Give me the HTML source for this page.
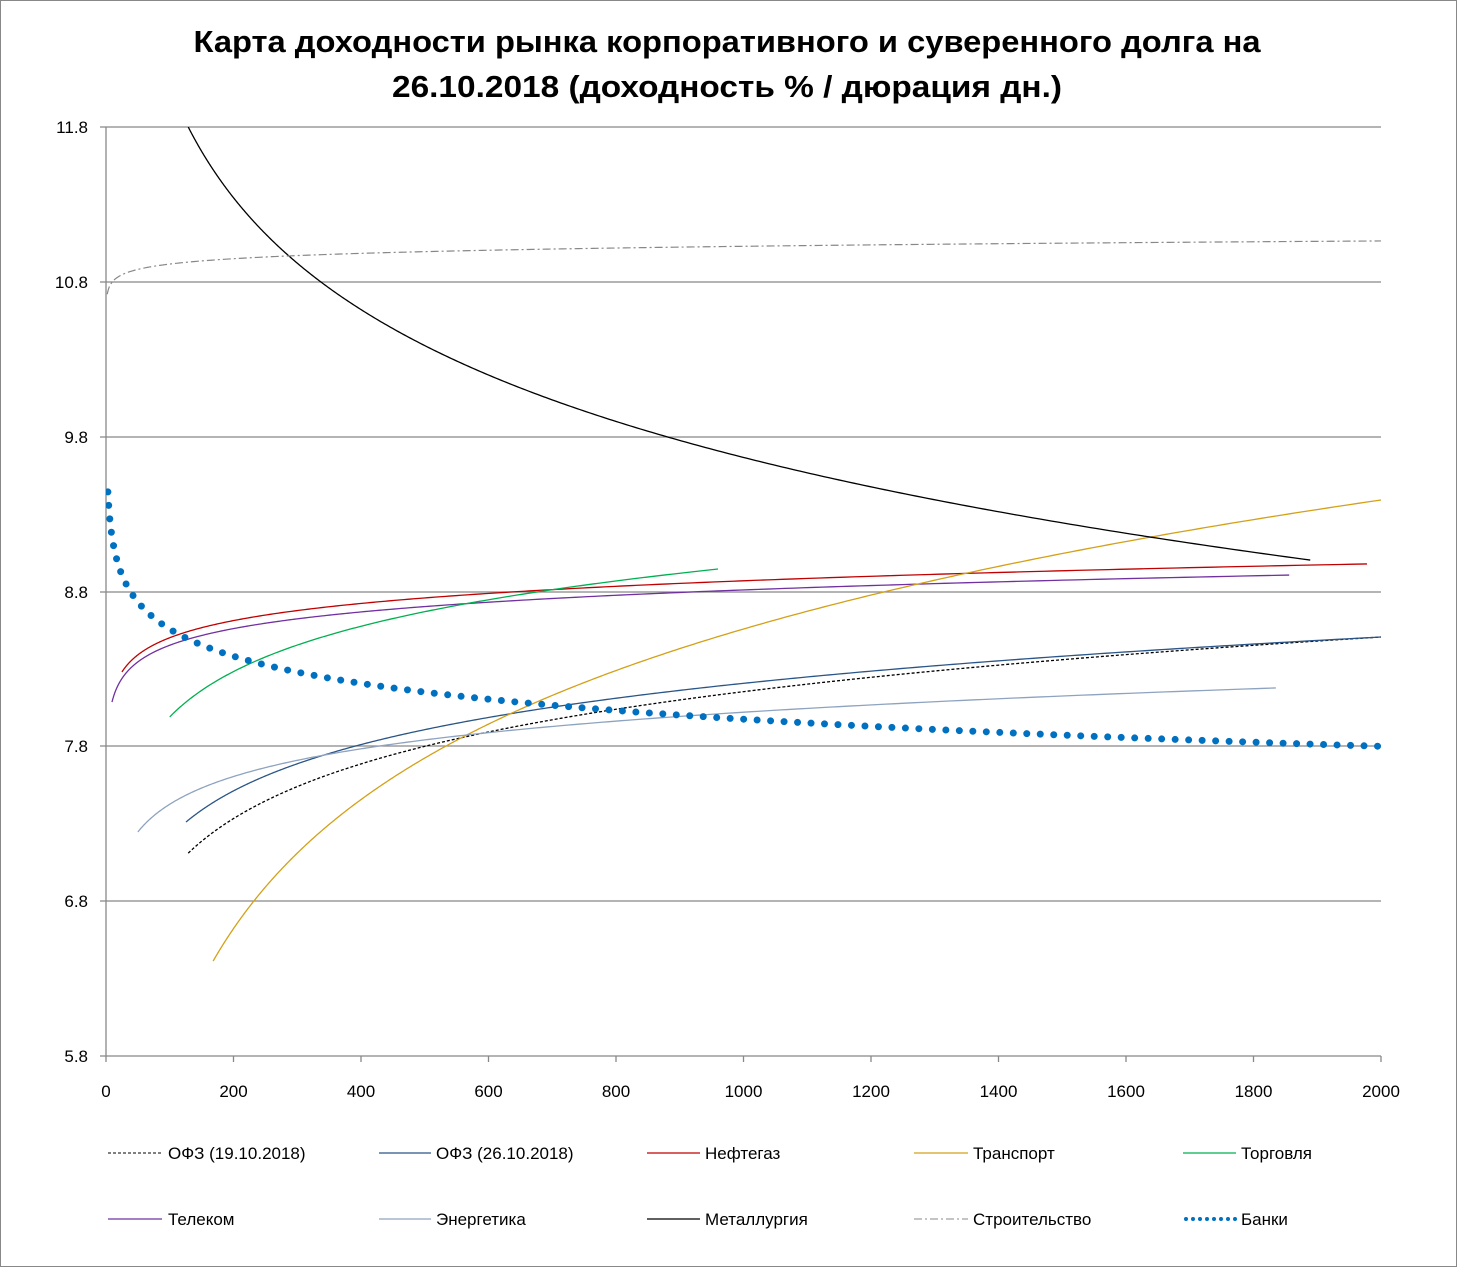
<!DOCTYPE html>
<html><head><meta charset="utf-8"><style>
body{margin:0;background:#fff}
svg{display:block;font-family:"Liberation Sans",sans-serif}
</style></head><body>
<svg id="s" width="1457" height="1267" xmlns="http://www.w3.org/2000/svg">
<rect x="0.5" y="0.5" width="1456" height="1266" fill="#fff" stroke="#888"/>
<text x="727" y="52" font-size="31" font-weight="bold" text-anchor="middle" textLength="1067" lengthAdjust="spacingAndGlyphs">Карта доходности рынка корпоративного и суверенного долга на</text>
<text x="727" y="97" font-size="31" font-weight="bold" text-anchor="middle" textLength="670" lengthAdjust="spacingAndGlyphs">26.10.2018 (доходность % / дюрация дн.)</text>
<g stroke="#888" stroke-width="1.3">
<line x1="100" y1="127" x2="1381" y2="127"/><line x1="100" y1="282" x2="1381" y2="282"/>
<line x1="100" y1="437" x2="1381" y2="437"/><line x1="100" y1="592" x2="1381" y2="592"/>
<line x1="100" y1="746" x2="1381" y2="746"/><line x1="100" y1="901" x2="1381" y2="901"/>
<line x1="100" y1="1056" x2="1381" y2="1056"/><line x1="106" y1="127" x2="106" y2="1056"/>
</g>
<g id="ticks" stroke="#888" stroke-width="1.3"></g>
<g font-size="17" fill="#000" text-anchor="end">
<text x="88" y="133">11.8</text><text x="88" y="288">10.8</text><text x="88" y="443">9.8</text>
<text x="88" y="598">8.8</text><text x="88" y="752">7.8</text><text x="88" y="907">6.8</text><text x="88" y="1062">5.8</text>
</g>
<g id="xl" font-size="17" text-anchor="middle"></g>
<clipPath id="c"><rect x="106" y="127" width="1280" height="930"/></clipPath>
<g id="series" clip-path="url(#c)" fill="none"></g>
<g font-size="17">
<line x1="108" y1="1153" x2="162" y2="1153" stroke="#000" stroke-dasharray="3 2"/><text x="168" y="1159">ОФЗ (19.10.2018)</text>
<line x1="379" y1="1153" x2="431" y2="1153" stroke="#2a5586" stroke-width="1.3"/><text x="436" y="1159">ОФЗ (26.10.2018)</text>
<line x1="647" y1="1153" x2="700" y2="1153" stroke="#c00000" stroke-width="1.3"/><text x="705" y="1159">Нефтегаз</text>
<line x1="914" y1="1153" x2="968" y2="1153" stroke="#d4a017" stroke-width="1.3"/><text x="973" y="1159">Транспорт</text>
<line x1="1183" y1="1153" x2="1236" y2="1153" stroke="#00b050" stroke-width="1.3"/><text x="1241" y="1159">Торговля</text>
<line x1="108" y1="1219" x2="162" y2="1219" stroke="#7030a0" stroke-width="1.3"/><text x="168" y="1225">Телеком</text>
<line x1="379" y1="1219" x2="431" y2="1219" stroke="#8ea3c0" stroke-width="1.3"/><text x="436" y="1225">Энергетика</text>
<line x1="647" y1="1219" x2="700" y2="1219" stroke="#000" stroke-width="1.3"/><text x="705" y="1225">Металлургия</text>
<line x1="914" y1="1219" x2="968" y2="1219" stroke="#888" stroke-dasharray="8 3 2 3"/><text x="973" y="1225">Строительство</text>
<line x1="1186" y1="1219" x2="1236" y2="1219" stroke="#0070c0" stroke-width="4" stroke-linecap="round" stroke-dasharray="0 7"/><text x="1241" y="1225">Банки</text>
</g>
</svg>
<script>
var NS="http://www.w3.org/2000/svg";
function X(d){return 106+d*0.6375}
function Y(v){return 127+(11.8-v)*154.83}
var t=document.getElementById("ticks"),xl=document.getElementById("xl");
for(var d=0;d<=2000;d+=200){var l=document.createElementNS(NS,"line");l.setAttribute("x1",X(d));l.setAttribute("x2",X(d));l.setAttribute("y1",1056);l.setAttribute("y2",1062);t.appendChild(l);
var tx=document.createElementNS(NS,"text");tx.setAttribute("x",X(d));tx.setAttribute("y",1097);tx.textContent=d;xl.appendChild(tx);}
var S=[
[129,7.11,2000,8.506,"#000",1.3,"3 2"],
[125.5,7.311,2000,8.506,"#2a5586",1.3,""],
[25,8.28,1978,8.978,"#c00000",1.3,""],
[9.4,8.086,1856,8.906,"#7030a0",1.3,""],
[100,7.99,960,8.945,"#00b050",1.3,""],
[168,6.413,2000,9.391,"#d4a017",1.3,""],
[50,7.247,1835,8.177,"#8ea3c0",1.3,""],
[129,11.8,1889,9.003,"#000",1.3,""],
[2,10.72,2000,11.064,"#888",1.2,"8 3 2 3"],
[3,9.443,2000,7.80,"#0070c0",7,"0 13.5"]
];
var g=document.getElementById("series");
S.forEach(function(s){
 var b=(s[3]-s[1])/(Math.log(s[2])-Math.log(s[0])),a=s[1]-b*Math.log(s[0]);
 var p="",n=400;
 for(var i=0;i<=n;i++){var d=s[0]*Math.pow(s[2]/s[0],i/n);
  if(s[4]=="#0070c0"||s[4]=="#888")d=s[0]+(s[2]-s[0])*Math.pow(i/n,2);
  if(d<s[0])d=s[0];
  var v=a+b*Math.log(d);p+=(i?"L":"M")+X(d).toFixed(2)+" "+Y(v).toFixed(2);}
 var e=document.createElementNS(NS,"path");e.setAttribute("d",p);e.setAttribute("stroke",s[4]);e.setAttribute("stroke-width",s[5]);
 if(s[6])e.setAttribute("stroke-dasharray",s[6]);
 if(s[5]==7)e.setAttribute("stroke-linecap","round");
 g.appendChild(e);
});
</script>
</body></html>
